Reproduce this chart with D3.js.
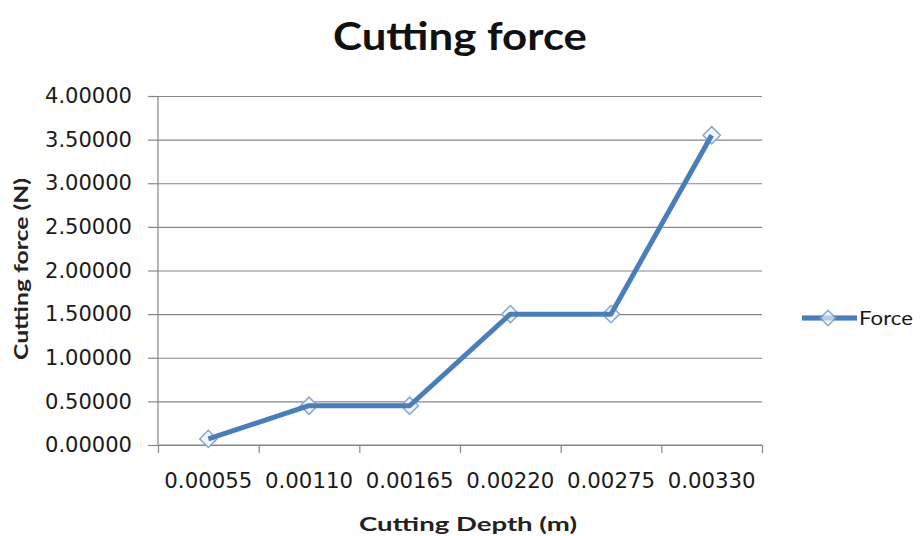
<!DOCTYPE html>
<html><head><meta charset="utf-8">
<script src="https://cdn.jsdelivr.net/npm/d3@7"></script>
<style>
html,body{margin:0;padding:0;background:#fff;}
svg{display:block;}
</style></head>
<body>
<svg id="chart" width="921" height="536"></svg>
<script>
const categories = ["0.00055","0.00110","0.00165","0.00220","0.00275","0.00330"];
const force = [0.07, 0.45, 0.45, 1.50, 1.50, 3.55];
const yTicks = [0,0.5,1,1.5,2,2.5,3,3.5,4];
const seriesName = "Force";
const titleText = "Cutting force";
const xTitle = "Cutting Depth (m)";
const yTitle = "Cutting force (N)";

const W = 921, H = 536;
const m = {left:158, right:159, top:96, bottom:91};
const svg = d3.select("#chart");
const iw = W - m.left - m.right, ih = H - m.top - m.bottom;

const x = d3.scaleBand().domain(categories).range([m.left, m.left+iw]).padding(0);
const xEdge = d3.scaleLinear().domain([0, categories.length]).range([m.left, m.left+iw]);
const y = d3.scaleLinear().domain([0,4]).range([m.top+ih, m.top]);

const gridColor = "#868686";
const tickFont = "'DejaVu Sans', Verdana, sans-serif";
const labelFont = "Lato, 'Open Sans', sans-serif";

// gridlines
svg.append("g").attr("transform",`translate(${m.left},0)`)
  .call(d3.axisLeft(y).tickValues(yTicks).tickSize(-iw).tickFormat(""))
  .call(g=>g.select(".domain").remove())
  .call(g=>g.selectAll("line").attr("stroke",gridColor).attr("stroke-width",1.2));

// y axis
svg.append("g").attr("transform",`translate(${m.left},0)`)
  .call(d3.axisLeft(y).tickValues(yTicks).tickSize(10).tickPadding(16).tickFormat(d3.format(".5f")))
  .call(g=>g.select(".domain").attr("stroke",gridColor).attr("stroke-width",1.2).attr("d",`M0,${m.top}V${m.top+ih}`))
  .call(g=>g.selectAll("line").attr("stroke",gridColor).attr("stroke-width",1.2))
  .call(g=>g.selectAll("text").attr("font-family",tickFont).attr("font-size",21).attr("fill","#1a1a1a")
     .attr("textLength",87).attr("lengthAdjust","spacingAndGlyphs"));

// x axis ticks at boundaries
svg.append("g").attr("transform",`translate(0,${m.top+ih})`)
  .call(d3.axisBottom(xEdge).ticks(categories.length).tickSize(8).tickFormat(""))
  .call(g=>g.select(".domain").attr("stroke",gridColor).attr("stroke-width",1.2).attr("d",`M${m.left},0H${m.left+iw}`))
  .call(g=>g.selectAll("line").attr("stroke",gridColor).attr("stroke-width",1.2));

// x labels
svg.append("g").attr("transform",`translate(0,${m.top+ih})`)
  .call(d3.axisBottom(x).tickSize(0).tickPadding(28))
  .call(g=>g.select(".domain").remove())
  .call(g=>g.selectAll("text").attr("font-family",tickFont).attr("font-size",21).attr("fill","#1a1a1a")
     .attr("textLength",88).attr("lengthAdjust","spacingAndGlyphs"));

// line
const cx = d => x(d) + x.bandwidth()/2;
const line = d3.line().x((d,i)=>cx(categories[i])).y(d=>y(d));
const blue = "#4a7ebb";
const mk = d3.symbol().type(d3.symbolDiamond2).size(190);
svg.append("g").selectAll("path").data(force).join("path")
  .attr("transform",(d,i)=>`translate(${cx(categories[i])},${y(d)})`)
  .attr("d",mk).attr("fill","#f4f7fb").attr("stroke","#8aa7cf").attr("stroke-width",1.5);
svg.append("path").datum(force).attr("d",line).attr("fill","none")
  .attr("stroke",blue).attr("stroke-width",5).attr("stroke-linejoin","round");

// legend
const ly = 318;
svg.append("line").attr("x1",802).attr("x2",857).attr("y1",ly).attr("y2",ly)
  .attr("stroke",blue).attr("stroke-width",5);
svg.append("path").attr("transform",`translate(828,${ly})`).attr("d",d3.symbol().type(d3.symbolDiamond2).size(150))
  .attr("fill","#f4f7fb").attr("stroke","#8aa7cf").attr("stroke-width",1.5);
svg.append("line").attr("x1",802).attr("x2",857).attr("y1",ly).attr("y2",ly)
  .attr("stroke",blue).attr("stroke-width",5).attr("opacity",0.35);
svg.append("text").attr("x",859).attr("y",ly+7).text(seriesName)
  .attr("font-family",labelFont).attr("font-size",20).attr("fill","#1a1a1a")
  .attr("textLength",54).attr("lengthAdjust","spacingAndGlyphs");

// title
svg.append("text").attr("x",460).attr("y",50).attr("text-anchor","middle").text(titleText)
  .attr("font-family",labelFont).attr("font-weight","bold").attr("font-size",39).attr("fill","#111")
  .attr("textLength",254).attr("lengthAdjust","spacingAndGlyphs");

// x title
svg.append("text").attr("x",468).attr("y",531).attr("text-anchor","middle").text(xTitle)
  .attr("font-family",labelFont).attr("font-weight","bold").attr("font-size",19).attr("fill","#222")
  .attr("textLength",218).attr("lengthAdjust","spacingAndGlyphs");

// y title
svg.append("text").attr("transform","translate(28,269) rotate(-90)").attr("text-anchor","middle").text(yTitle)
  .attr("font-family",labelFont).attr("font-weight","bold").attr("font-size",19).attr("fill","#222")
  .attr("textLength",182).attr("lengthAdjust","spacingAndGlyphs");
</script>
</body></html>
